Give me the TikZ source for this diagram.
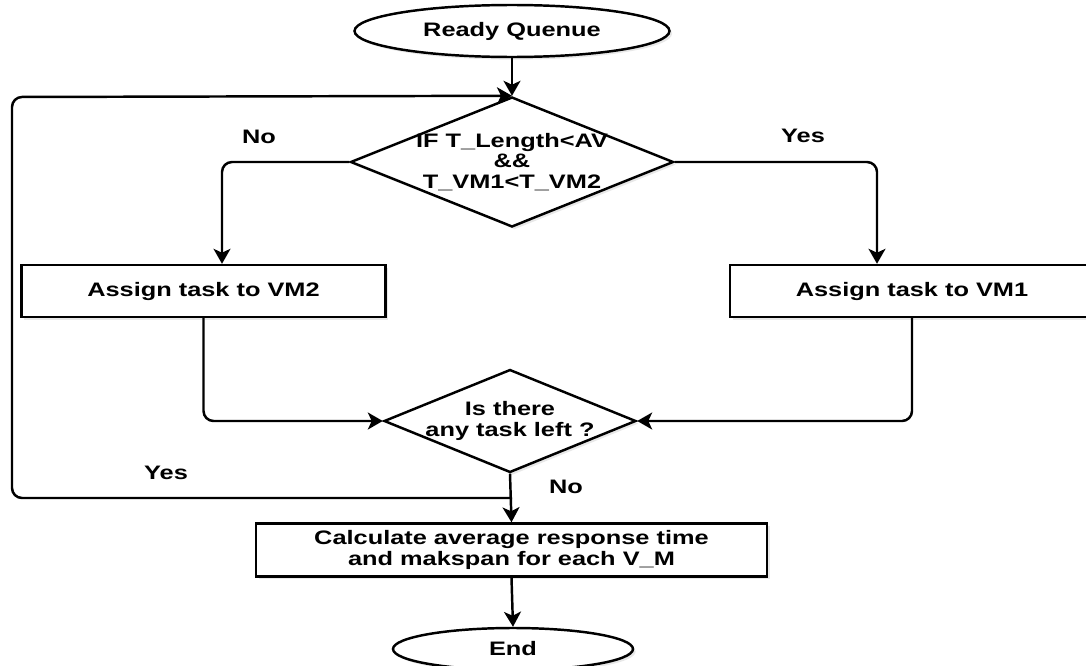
\documentclass[tikz,border=0pt]{standalone}
\usepackage{fontspec}
\setmainfont{Liberation Sans}[FakeStretch=1.3]
\usetikzlibrary{shapes.geometric,arrows.meta,calc,shadows}
\begin{document}
\begin{tikzpicture}[x=0.02cm,y=-0.02cm,
  font=\fontsize{11.1}{11.8}\selectfont\bfseries,
  base/.style={draw=black,line width=1.4pt,fill=white,inner sep=0pt,align=center,
    drop shadow={shadow xshift=1.5pt,shadow yshift=-1.5pt,opacity=0.18,fill=gray}},
  terminal/.style={base,ellipse},
  process/.style={base,rectangle},
  decision/.style={base,diamond},
  flow/.style={line width=1.4pt,rounded corners=0.2cm,
    -{Stealth[length=0.3cm,width=0.34cm,inset=0.08cm]}},
  tag/.style={inner sep=0pt}]
\useasboundingbox (0,0) rectangle (1086,666);

% shapes
\node[terminal,minimum width=6.3cm,minimum height=1.04cm] (start) at (512,31) {Ready Quenue};
\node[decision,minimum width=6.46cm,minimum height=2.6cm,
  label={[align=center,font=\fontsize{11.1}{11.8}\selectfont\bfseries]center:IF T\_Length<AV\\\&\&\\T\_VM1<T\_VM2}] (d1) at (512,162) {};
\node[process,minimum width=7.28cm,minimum height=1.04cm] (vm2) at (203.5,291) {Assign task to VM2};
\node[process,minimum width=7.28cm,minimum height=1.04cm] (vm1) at (912,291) {Assign task to VM1};
\node[decision,minimum width=5.04cm,minimum height=2.06cm,
  label={[align=center,font=\fontsize{11.1}{11.8}\selectfont\bfseries]center:Is there\\any task left ?}] (d2) at (510,421) {};
\node[process,minimum width=10.22cm,minimum height=1.06cm] (calc) at (511.5,550)
  {Calculate average response time\\and makspan for each V\_M};
\node[terminal,minimum width=4.8cm,minimum height=0.84cm] (end) at (513,649) {End};

% loop-back route
\coordinate (ret) at (512,498);
\coordinate (retbl) at (12,498);
\coordinate (rettl) at (12,97);

% connectors
\draw[flow] (start.south) -- (d1.north);
\draw[flow] (d1.west) -| ($(vm2.north)+(18.5,0)$);
\draw[flow] (d1.east) -| ($(vm1.north)+(-35,0)$);
\draw[flow] (vm2.south) |- (d2.west);
\draw[flow] (vm1.south) |- (d2.east);
\draw[flow] (d2.south) -- (calc.north);
\draw[flow] (ret) -- (retbl) -- (rettl) -- (d1.north);
\draw[flow] (calc.south) -- (end.north);

% branch labels
\node[tag] (lno1) at (259,137) {No};
\node[tag] (lyes1) at (803,136) {Yes};
\node[tag] (lyes2) at (166,473) {Yes};
\node[tag] (lno2) at (566,487) {No};
\end{tikzpicture}
\end{document}
